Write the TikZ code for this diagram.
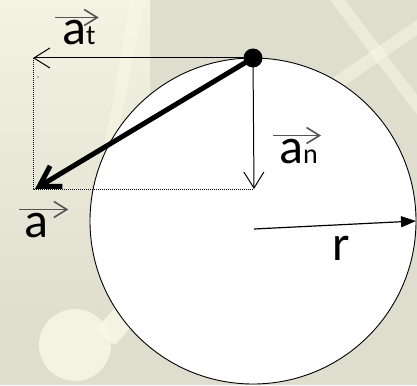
\documentclass[tikz,border=0pt]{standalone}
\usepackage{fontspec}
\setmainfont{Carlito}
\usetikzlibrary{arrows.meta}
\definecolor{bgbeige}{RGB}{222,221,206}
\definecolor{bgcream}{RGB}{244,243,227}
\definecolor{bglight}{RGB}{250,249,230}
\definecolor{vecgray}{RGB}{85,85,85}
\tikzset{
  big text/.style={font=\fontsize{50}{50}\selectfont, inner sep=0pt, anchor=base west},
  comp vec/.style={line width=1pt, -{Straight Barb[length=16pt,width=20pt]}},
  over vec/.style={line width=1.6pt, vecgray, -{Straight Barb[length=13pt,width=16pt]}},
  guide/.style={line width=0.8pt, dash pattern=on 1pt off 1pt}
}

\begin{document}
\begin{tikzpicture}[x=1pt, y=-1pt, line cap=butt, line join=miter]

  % Canvas
  \useasboundingbox (0,0) rectangle (417,385);

  % Background pattern
  \fill[bgbeige] (0,0) rectangle (417,385);
  \shade[top color=bgcream, middle color=bgcream, bottom color=bgbeige] (0,0) rectangle (150,330);
  \fill[bglight, opacity=0.8] (75,345) circle (36);
  \fill[bglight, opacity=0.8] (95,330) -- (115,345) -- (200,250) -- (180,235) -- cycle;
  \fill[bglight, opacity=0.5] (330,0) -- (345,0) -- (417,95) -- (417,115) -- cycle;
  \fill[bglight, opacity=0.5] (300,100) -- (417,20) -- (417,35) -- (310,110) -- cycle;
  \fill[bglight, opacity=0.5] (130,0) .. controls (120,60) and (110,120) .. (100,170) -- (110,170) .. controls (122,120) and (132,60) .. (145,0) -- cycle;

  % Points
  \coordinate (C) at (253,221);   % circle centre
  \coordinate (T) at (33,58);     % tangential end
  \coordinate (N) at (254,189);   % normal end
  \coordinate (A) at (35,189);    % resultant end
  \coordinate (R0) at (254,229);  % radius start
  \coordinate (R1) at (416,221);  % radius end

  % Circle
  \filldraw[fill=white, draw=black, line width=0.9pt] (C) circle (163);

  % Guides
  \draw[guide] (T) -- (33,189) -- (N);
  \fill (38,77) circle (0.6);

  % Components
  \node[circle, fill=black, minimum size=19pt, inner sep=0pt] (P) at (253,58) {};
  \draw[comp vec] (P.center) -- (T);
  \draw[comp vec] (P.center) -- (N);

  % Resultant
  \draw[line width=5pt, -{Straight Barb[length=20pt,width=24pt,line width=5pt]}] (P.center) -- (A);

  % Radius
  \draw[line width=1.2pt, -{Triangle[length=15pt,width=11pt]}] (R0) -- (R1);

  % Labels
  \node[big text] (at) at (62,45) {a{\fontsize{28}{28}\selectfont t}};
  \node[big text] (an) at (279,163) {a{\fontsize{28}{28}\selectfont n}};
  \node[big text] (aa) at (24,237) {a};
  \node[big text] (rr) at (332,260) {r};

  % Vector arrows over labels
  \draw[over vec] ([xshift=-7pt, yshift=3pt]at.north west) -- ([xshift=3pt, yshift=3pt]at.north east);
  \draw[over vec] ([xshift=-6pt, yshift=3pt]an.north west) -- ([xshift=3pt, yshift=3pt]an.north east);
  \draw[over vec] ([xshift=-5pt, yshift=3pt]aa.north west) -- ([xshift=20pt, yshift=3pt]aa.north east);

\end{tikzpicture}
\end{document}
